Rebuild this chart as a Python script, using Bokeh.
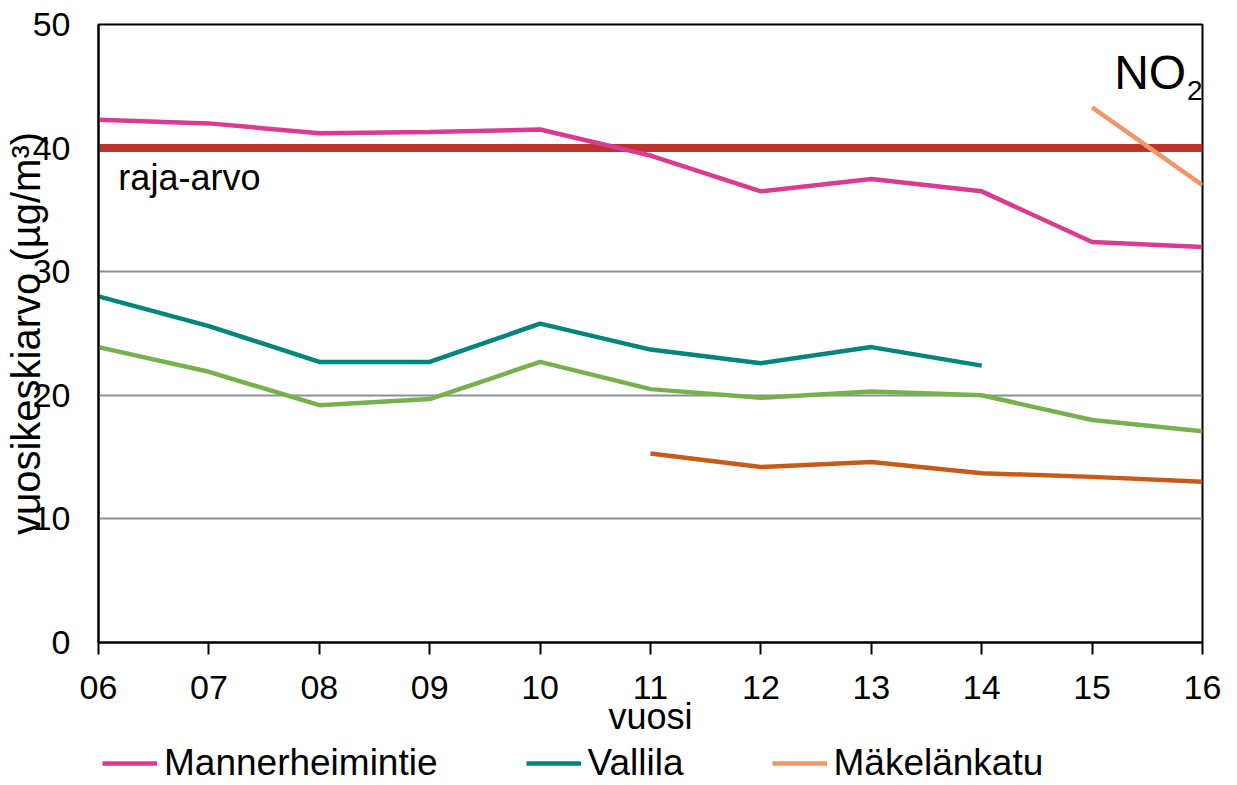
from bokeh.plotting import figure
from bokeh.layouts import column
from bokeh.models import Range1d, Legend, LegendItem, Label, FixedTicker
from bokeh.embed import file_html
from bokeh.resources import INLINE

# ---- data ----
years = [6, 7, 8, 9, 10, 11, 12, 13, 14, 15, 16]
year_labels = ["06", "07", "08", "09", "10", "11", "12", "13", "14", "15", "16"]

mannerheimintie_x = [6, 7, 8, 9, 10, 11, 12, 13, 14, 15, 16]
mannerheimintie_y = [42.3, 42.0, 41.2, 41.3, 41.5, 39.4, 36.5, 37.5, 36.5, 32.4, 32.0]

vallila_x = [6, 7, 8, 9, 10, 11, 12, 13, 14]
vallila_y = [28.0, 25.6, 22.7, 22.7, 25.8, 23.7, 22.6, 23.9, 22.4]

makelankatu_x = [15, 16]
makelankatu_y = [43.3, 37.0]

asema4_x = [6, 7, 8, 9, 10, 11, 12, 13, 14, 15, 16]
asema4_y = [23.9, 21.9, 19.2, 19.7, 22.7, 20.5, 19.8, 20.3, 20.0, 18.0, 17.1]

asema5_x = [11, 12, 13, 14, 15, 16]
asema5_y = [15.3, 14.2, 14.6, 13.7, 13.4, 13.0]

raja_arvo_x = [6, 16]
raja_arvo_y = [40, 40]

y_ticks = [0, 10, 20, 30, 40, 50]

legend_labels = ["Mannerheimintie", "Vallila", "Mäkelänkatu"]
legend_colors = ["#DA3A8F", "#00857D", "#F0976A"]
legend_series = [(mannerheimintie_x, mannerheimintie_y),
                 (vallila_x, vallila_y),
                 (makelankatu_x, makelankatu_y)]

FONT = "Liberation Sans"

p = figure(width=1237, height=740, output_backend="svg", toolbar_location=None,
           x_range=Range1d(6, 16), y_range=Range1d(0, 50),
           min_border_left=96, min_border_right=35, min_border_top=24, min_border_bottom=98)

p.background_fill_color = "white"
p.border_fill_color = "white"
p.outline_line_color = "black"
p.outline_line_width = 2

# grid
p.xgrid.grid_line_color = None
p.ygrid.grid_line_color = "#8A9297"
p.ygrid.grid_line_width = 2
p.ygrid.ticker = FixedTicker(ticks=[10, 20, 30, 40])

# x axis
p.xaxis.ticker = FixedTicker(ticks=years)
p.xaxis.major_label_overrides = {y: l for y, l in zip(years, year_labels)}
p.xaxis.axis_line_color = "black"
p.xaxis.axis_line_width = 2
p.xaxis.major_tick_line_color = "black"
p.xaxis.major_tick_line_width = 2
p.xaxis.major_tick_out = 12
p.xaxis.major_tick_in = 0
p.xaxis.minor_tick_line_color = None
p.xaxis.major_label_text_font = FONT
p.xaxis.major_label_text_font_size = "34px"
p.xaxis.major_label_text_color = "black"
p.xaxis.major_label_standoff = 21
p.xaxis.axis_label = "vuosi"
p.xaxis.axis_label_text_font = FONT
p.xaxis.axis_label_text_font_size = "36px"
p.xaxis.axis_label_text_font_style = "normal"
p.xaxis.axis_label_text_color = "black"
p.xaxis.axis_label_standoff = -6

# y axis
p.yaxis.ticker = FixedTicker(ticks=y_ticks)
p.yaxis.axis_line_color = "black"
p.yaxis.axis_line_width = 2
p.yaxis.major_tick_line_color = None
p.yaxis.major_tick_out = 0
p.yaxis.major_tick_in = 0
p.yaxis.minor_tick_line_color = None
p.yaxis.major_label_text_font = FONT
p.yaxis.major_label_text_font_size = "34px"
p.yaxis.major_label_text_color = "black"
p.yaxis.major_label_standoff = 28
p.yaxis.axis_label = "vuosikeskiarvo (µg/m³)"
p.yaxis.axis_label_text_font = FONT
p.yaxis.axis_label_text_font_size = "40px"
p.yaxis.axis_label_text_font_style = "normal"
p.yaxis.axis_label_text_color = "black"
p.yaxis.axis_label_standoff = -18

# lines
p.line(raja_arvo_x, raja_arvo_y, line_color="#BE3329", line_width=8)
p.line(asema4_x, asema4_y, line_color="#78B04E", line_width=4.5)
p.line(asema5_x, asema5_y, line_color="#C85A17", line_width=4.5)
p.line(vallila_x, vallila_y, line_color=legend_colors[1], line_width=4.5)
p.line(mannerheimintie_x, mannerheimintie_y, line_color=legend_colors[0], line_width=4.5)
p.line(makelankatu_x, makelankatu_y, line_color=legend_colors[2], line_width=4.5)

# annotations
p.add_layout(Label(x=6.18, y=37.6, text="raja-arvo", text_font=FONT, text_font_size="36px",
                   text_color="black", text_baseline="middle"))
p.add_layout(Label(x=15.20, y=46.1, text="NO", text_font=FONT, text_font_size="48px",
                   text_color="black", text_baseline="middle"))
p.add_layout(Label(x=15.86, y=44.66, text="2", text_font=FONT, text_font_size="28px",
                   text_color="black", text_baseline="middle"))

# legend strip (separate figure so the legend is not clipped by the main frame);
# its lines lie outside that strip's view, only their legend swatches are seen
pl = figure(width=1237, height=45, output_backend="svg", toolbar_location=None,
            x_range=Range1d(0, 1), y_range=Range1d(0, 1),
            x_axis_type=None, y_axis_type=None,
            min_border_left=0, min_border_right=0, min_border_top=0, min_border_bottom=0)
pl.outline_line_color = None
pl.xgrid.grid_line_color = None
pl.ygrid.grid_line_color = None
pl.background_fill_color = "white"
pl.border_fill_color = "white"

items = []
for lab, col, (sx, sy) in zip(legend_labels, legend_colors, legend_series):
    r = pl.line(sx, sy, line_color=col, line_width=4.5)
    items.append(LegendItem(label=lab, renderers=[r]))

legend = Legend(items=items, orientation="horizontal", location=(4, 1))
legend.border_line_color = None
legend.background_fill_alpha = 0
legend.label_text_font = FONT
legend.label_text_font_size = "37px"
legend.label_text_color = "black"
legend.glyph_width = 55
legend.glyph_height = 30
legend.label_standoff = 7
legend.spacing = 88
legend.padding = 0
legend.margin = 0
pl.add_layout(legend)

layout = column(p, pl, spacing=0)
open("out.html", "w").write(file_html(layout, INLINE))
